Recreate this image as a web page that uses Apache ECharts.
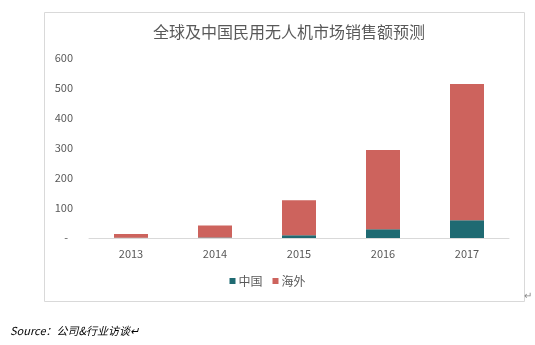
<!DOCTYPE html>
<html><head><meta charset="utf-8">
<script src="https://cdn.jsdelivr.net/npm/echarts@6/dist/echarts.min.js"></script>
<style>html,body{margin:0;padding:0;background:#fff}#c{width:535px;height:345px}</style>
</head><body><div id="c"></div>
<script>
const titleText = '全球及中国民用无人机市场销售额预测';
const categories = ['2013', '2014', '2015', '2016', '2017'];
const chinaValues = [0.5, 2, 9, 29, 59];
const overseasValues = [12.5, 40, 117, 264, 454];
const seriesNames = ['中国', '海外'];
const sourceText = 'Source：公司&行业访谈';

const chart = echarts.init(document.getElementById('c'));
const font = '"Microsoft YaHei","Noto Sans CJK SC",sans-serif';
chart.setOption({
  animation: false,
  backgroundColor: '#fff',
  title: {
    text: titleText, left: 284, top: 19, textAlign: 'center',
    textStyle: {fontSize: 16, fontWeight: 'normal', color: '#595959', fontFamily: font}
  },
  legend: {
    data: seriesNames, left: 'center', top: 270, itemWidth: 6, itemHeight: 6, itemGap: 10,
    icon: 'rect',
    textStyle: {fontSize: 12, color: '#595959', fontFamily: font, padding: [0, 0, 0, -2]}
  },
  grid: {left: 89, right: 26, top: 58, bottom: 107},
  xAxis: {
    type: 'category', data: categories,
    axisLine: {lineStyle: {color: '#d9d9d9', width: 1}},
    axisTick: {show: false},
    axisLabel: {color: '#595959', fontSize: 11, margin: 10, fontFamily: font}
  },
  yAxis: {
    type: 'value', min: 0, max: 600, interval: 100,
    axisLine: {show: false}, axisTick: {show: false},
    splitLine: {show: false},
    axisLabel: {color: '#595959', fontSize: 11, margin: 16, fontFamily: font,
      formatter: v => v === 0 ? '-  ' : String(v)}
  },
  series: [
    {name: seriesNames[0], type: 'bar', stack: 't', data: chinaValues, barWidth: 34,
     itemStyle: {color: '#1f6a72'}},
    {name: seriesNames[1], type: 'bar', stack: 't', data: overseasValues, barWidth: 34,
     itemStyle: {color: '#cd635d'}}
  ],
  graphic: [
    {type: 'rect', shape: {x: 44.5, y: 12.5, width: 480, height: 289},
     style: {fill: 'none', stroke: '#d9d9d9', lineWidth: 1}, silent: true, z: -1},
    {type: 'text', left: 524, top: 290,
     style: {text: '↵', fontSize: 10, fill: '#888', fontFamily: font}},
    {type: 'text', left: 10, top: 325,
     style: {text: sourceText + '↵', fontSize: 11, fontStyle: 'italic', fill: '#000', fontFamily: font}}
  ]
});
</script></body></html>
